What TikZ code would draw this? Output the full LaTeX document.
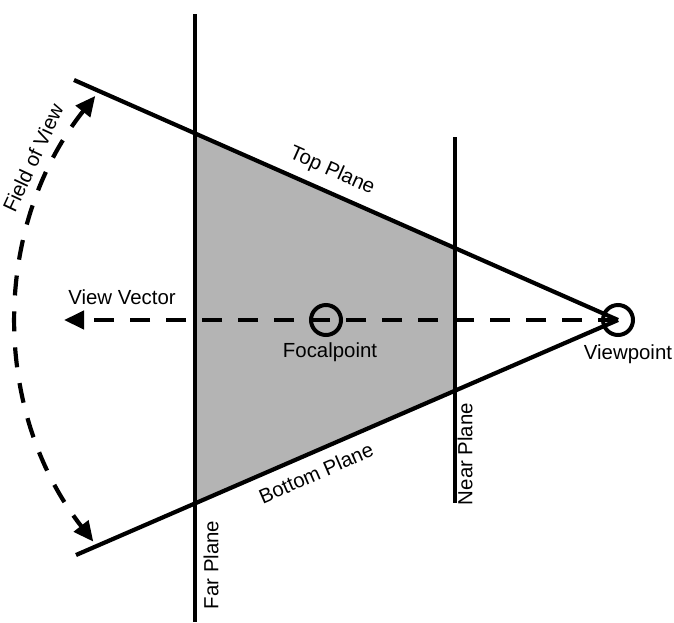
\documentclass[tikz,border=0pt]{standalone}
\usepackage{fontspec}
\setmainfont{Liberation Sans}
\usepackage{tikz}
\usetikzlibrary{arrows.meta}
\usepackage{xcolor}
\definecolor{fGrey}{RGB}{180,180,180}

\begin{document}
\begin{tikzpicture}[x=0.5pt, y=-0.5pt,
  plane/.style={line width=2.1pt, black},
  dashv/.style={line width=2.1pt, dash pattern=on 10pt off 8pt,
                -{Triangle[length=10pt, width=9pt]}},
  fov/.style={line width=2.1pt, dash pattern=on 10pt off 8pt,
              {Triangle[length=10pt, width=9pt]}-{Triangle[length=10pt, width=9pt]}},
  ring/.style={circle, draw, line width=2pt, minimum size=15pt, inner sep=0pt},
  lbl/.style={font=\fontsize{10.2}{12}\selectfont, inner sep=0pt}]
  \useasboundingbox (0,0) rectangle (674,622);
  % points of the frustum
  \coordinate (tl) at (74,80);
  \coordinate (bl) at (76,555);
  \coordinate (v) at (618,320);
  \coordinate (farT) at (195,14);
  \coordinate (farB) at (195,622);
  \coordinate (nearT) at (455,137);
  \coordinate (nearB) at (455,503);
  \coordinate (vv) at (64,320);
  \coordinate (fovC) at (377,320);
  % shaded volume
  \fill[fGrey] (intersection of tl--v and farT--farB) -- (intersection of tl--v and nearT--nearB)
    -- (intersection of bl--v and nearT--nearB) -- (intersection of bl--v and farT--farB) -- cycle;
  % planes
  \draw[plane] (farT) -- (farB);
  \draw[plane] (nearT) -- (nearB);
  \draw[plane] (tl) -- (v);
  \draw[plane] (bl) -- (v);
  % view vector and points
  \draw[dashv] (v) -- (vv);
  \node[ring] (vp) at (v) {};
  \node[ring] (fp) at (326,320) {};
  % field of view
  \draw[fov] (fovC) ++(218.5:360) arc[start angle=218.5, end angle=142, radius=360];
  % labels
  \node[lbl, rotate=-24] (topL) at (332,171) {Top Plane};
  \node[lbl, rotate=23.5] (botL) at (316,473) {Bottom Plane};
  \node[lbl, rotate=65] (fovL) at (33,158) {Field of View};
  \node[lbl, rotate=90] (farL) at (211,565) {Far Plane};
  \node[lbl, rotate=90] (nearL) at (465,454) {Near Plane};
  \node[lbl] (vvL) at (122,297) {View Vector};
  \node[lbl] (fpL) at (330,352) {Focalpoint};
  \node[lbl] (vpL) at (628,354) {Viewpoint};
\end{tikzpicture}
\end{document}
